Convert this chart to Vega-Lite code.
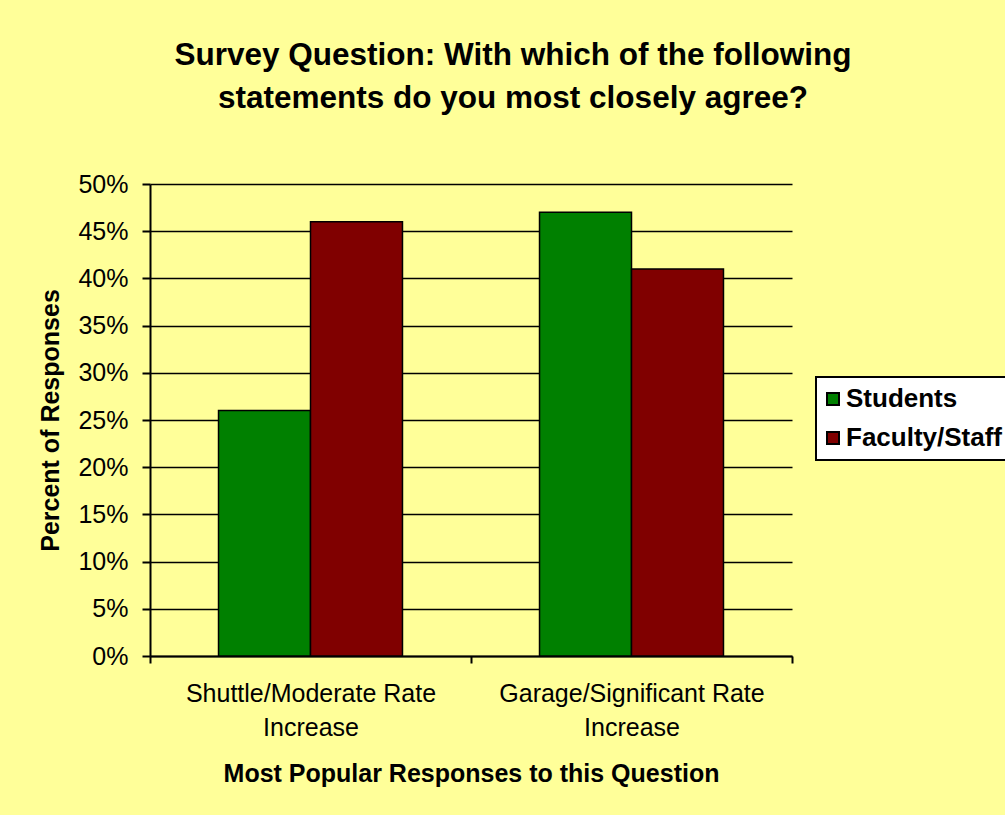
{
  "$schema": "https://vega.github.io/schema/vega-lite/v6.json",
  "description": "Survey responses by group",
  "background": "#FFFF99",
  "autosize": "none",
  "width": 642,
  "height": 472,
  "padding": {"left": 150, "top": 184, "right": 213, "bottom": 159},
  "title": {
    "text": ["Survey Question: With which of the following", "statements do you most closely agree?"],
    "font": "Liberation Sans",
    "fontSize": 31.5,
    "fontWeight": "bold",
    "color": "black",
    "lineHeight": 43,
    "anchor": "middle",
    "dx": 42,
    "offset": 58
  },
  "data": {
    "values": [
      {"response": "Shuttle/Moderate Rate Increase", "group": "Students", "pct": 0.26},
      {"response": "Shuttle/Moderate Rate Increase", "group": "Faculty/Staff", "pct": 0.46},
      {"response": "Garage/Significant Rate Increase", "group": "Students", "pct": 0.47},
      {"response": "Garage/Significant Rate Increase", "group": "Faculty/Staff", "pct": 0.41}
    ]
  },
  "mark": {"type": "bar", "stroke": "black", "strokeWidth": 1.5},
  "encoding": {
    "x": {
      "field": "response",
      "type": "nominal",
      "sort": ["Shuttle/Moderate Rate Increase", "Garage/Significant Rate Increase"],
      "title": "Most Popular Responses to this Question",
      "scale": {"paddingInner": 0, "paddingOuter": 0},
      "axis": {
        "labelAngle": 0,
        "labelLimit": 0,
        "labelExpr": "datum.label ? [replace(datum.label, ' Increase', ''), 'Increase'] : ''",
        "labelLineHeight": 34,
        "labelPadding": 18,
        "tickBand": "extent",
        "tickSize": 7,
        "titlePadding": 21
      }
    },
    "xOffset": {
      "field": "group",
      "type": "nominal",
      "sort": ["Students", "Faculty/Staff"],
      "scale": {"paddingInner": 0, "paddingOuter": 0.745}
    },
    "y": {
      "field": "pct",
      "type": "quantitative",
      "title": "Percent of Responses",
      "scale": {"domain": [0, 0.5]},
      "axis": {
        "format": ".0%",
        "values": [0, 0.05, 0.1, 0.15, 0.2, 0.25, 0.3, 0.35, 0.4, 0.45, 0.5],
        "grid": true,
        "tickSize": 8,
        "labelPadding": 14,
        "titlePadding": 14
      }
    },
    "color": {
      "field": "group",
      "type": "nominal",
      "sort": ["Students", "Faculty/Staff"],
      "scale": {"domain": ["Students", "Faculty/Staff"], "range": ["#008000", "#800000"]},
      "legend": {
        "title": null,
        "orient": "none",
        "legendX": 666,
        "legendY": 193,
        "fillColor": "white",
        "strokeColor": "black",
        "padding": 9,
        "symbolType": "square",
        "symbolSize": 144,
        "symbolStrokeColor": "black",
        "symbolStrokeWidth": 2,
        "symbolOpacity": 1,
        "symbolOffset": -5,
        "labelFont": "Liberation Sans",
        "labelFontSize": 26,
        "labelFontWeight": "bold",
        "labelColor": "black",
        "labelOffset": 0,
        "labelLimit": 300,
        "rowPadding": 13,
        "encode": {"legend": {"update": {"strokeWidth": {"value": 2}}}}
      }
    }
  },
  "config": {
    "view": {"stroke": null},
    "axis": {
      "labelFont": "Liberation Sans",
      "labelFontSize": 25,
      "labelColor": "black",
      "titleFont": "Liberation Sans",
      "titleFontSize": 25,
      "titleFontWeight": "bold",
      "titleColor": "black",
      "domainColor": "black",
      "domainWidth": 2,
      "tickColor": "black",
      "tickWidth": 2,
      "gridColor": "black",
      "gridWidth": 1.5,
      "gridOpacity": 1
    }
  }
}
